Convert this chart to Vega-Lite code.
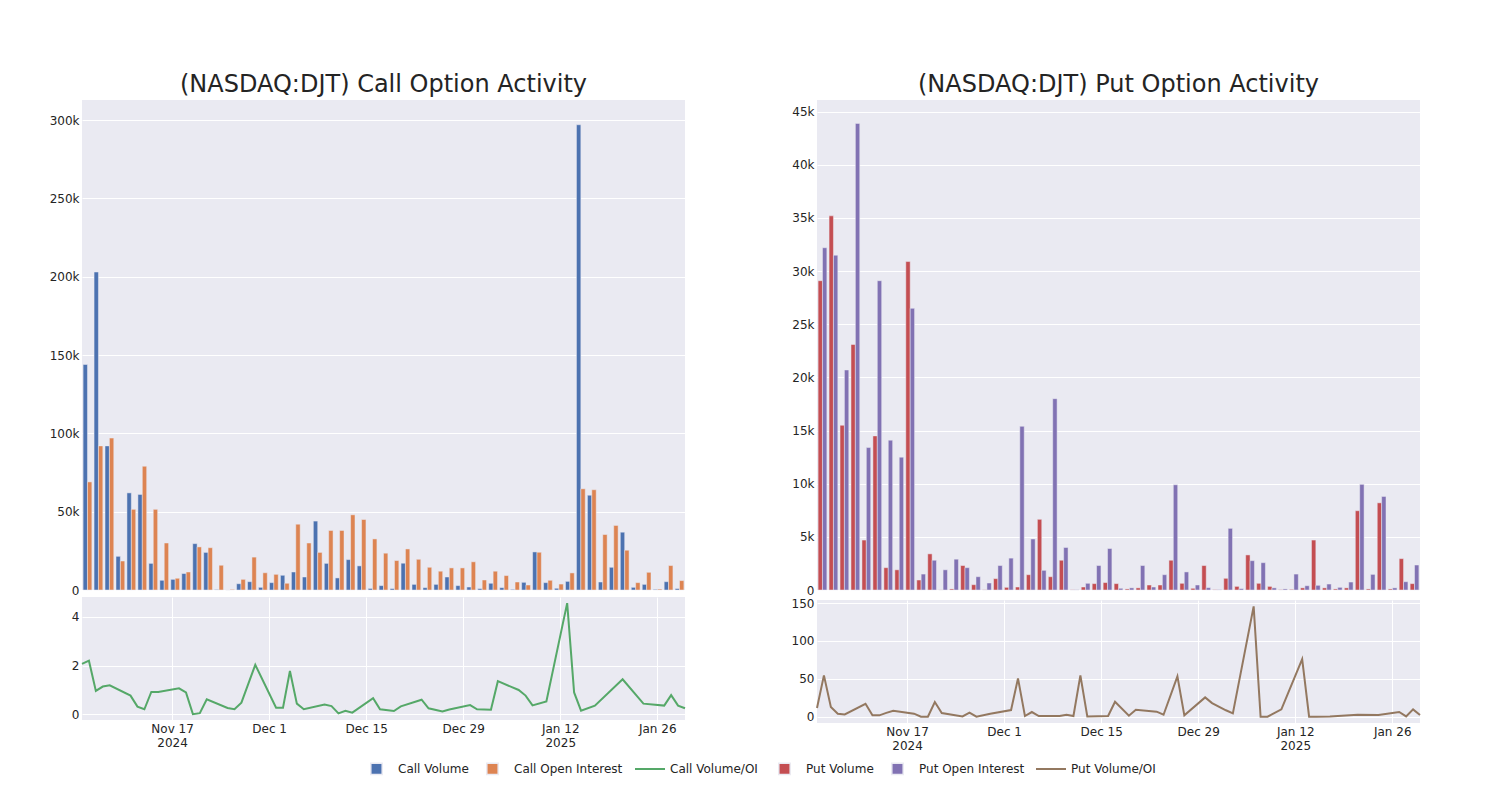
{
  "$schema": "https://vega.github.io/schema/vega-lite/v6.json",
  "background": "white",
  "autosize": {"type": "pad"},
  "padding": {"left": 49, "top": 73, "right": 5, "bottom": 5},
  "datasets": {
    "calls": [
      {"date": "2024-11-04", "V": 144000, "OI": 69000, "Call Volume/OI": 2.07},
      {"date": "2024-11-05", "V": 203000, "OI": 92000, "Call Volume/OI": 2.2},
      {"date": "2024-11-06", "V": 92000, "OI": 97000, "Call Volume/OI": 0.96},
      {"date": "2024-11-07", "V": 21500, "OI": 18500, "Call Volume/OI": 1.14},
      {"date": "2024-11-08", "V": 62000, "OI": 51500, "Call Volume/OI": 1.19},
      {"date": "2024-11-11", "V": 61000, "OI": 79000, "Call Volume/OI": 0.77},
      {"date": "2024-11-12", "V": 17000, "OI": 51500, "Call Volume/OI": 0.32},
      {"date": "2024-11-13", "V": 6200, "OI": 30000, "Call Volume/OI": 0.21},
      {"date": "2024-11-14", "V": 6800, "OI": 7500, "Call Volume/OI": 0.92},
      {"date": "2024-11-15", "V": 10500, "OI": 11500, "Call Volume/OI": 0.92},
      {"date": "2024-11-18", "V": 29600, "OI": 27500, "Call Volume/OI": 1.07},
      {"date": "2024-11-19", "V": 24000, "OI": 27000, "Call Volume/OI": 0.9},
      {"date": "2024-11-20", "V": 300, "OI": 15800, "Call Volume/OI": 0.01},
      {"date": "2024-11-21", "V": 20, "OI": 400, "Call Volume/OI": 0.05},
      {"date": "2024-11-22", "V": 4000, "OI": 6800, "Call Volume/OI": 0.62},
      {"date": "2024-11-25", "V": 5300, "OI": 21000, "Call Volume/OI": 0.26},
      {"date": "2024-11-26", "V": 1700, "OI": 11000, "Call Volume/OI": 0.21},
      {"date": "2024-11-27", "V": 4700, "OI": 10000, "Call Volume/OI": 0.48},
      {"date": "2024-11-29", "V": 9400, "OI": 4300, "Call Volume/OI": 2.03},
      {"date": "2024-12-02", "V": 11500, "OI": 42000, "Call Volume/OI": 0.27},
      {"date": "2024-12-03", "V": 8300, "OI": 30000, "Call Volume/OI": 0.27},
      {"date": "2024-12-04", "V": 44000, "OI": 24000, "Call Volume/OI": 1.78},
      {"date": "2024-12-05", "V": 17000, "OI": 38000, "Call Volume/OI": 0.44},
      {"date": "2024-12-06", "V": 7700, "OI": 38000, "Call Volume/OI": 0.21},
      {"date": "2024-12-09", "V": 19400, "OI": 48000, "Call Volume/OI": 0.4},
      {"date": "2024-12-10", "V": 15400, "OI": 45000, "Call Volume/OI": 0.34},
      {"date": "2024-12-11", "V": 1000, "OI": 32600, "Call Volume/OI": 0.04},
      {"date": "2024-12-12", "V": 2800, "OI": 23500, "Call Volume/OI": 0.15},
      {"date": "2024-12-13", "V": 900, "OI": 18800, "Call Volume/OI": 0.07},
      {"date": "2024-12-16", "V": 17100, "OI": 26200, "Call Volume/OI": 0.66},
      {"date": "2024-12-17", "V": 3600, "OI": 19600, "Call Volume/OI": 0.21},
      {"date": "2024-12-19", "V": 1500, "OI": 14500, "Call Volume/OI": 0.14},
      {"date": "2024-12-20", "V": 3600, "OI": 12000, "Call Volume/OI": 0.33},
      {"date": "2024-12-23", "V": 8300, "OI": 14100, "Call Volume/OI": 0.6},
      {"date": "2024-12-24", "V": 2800, "OI": 14100, "Call Volume/OI": 0.25},
      {"date": "2024-12-26", "V": 1900, "OI": 18000, "Call Volume/OI": 0.12},
      {"date": "2024-12-27", "V": 900, "OI": 6400, "Call Volume/OI": 0.2},
      {"date": "2024-12-30", "V": 4300, "OI": 12000, "Call Volume/OI": 0.38},
      {"date": "2024-12-31", "V": 1500, "OI": 9200, "Call Volume/OI": 0.21},
      {"date": "2025-01-02", "V": 400, "OI": 5100, "Call Volume/OI": 0.19},
      {"date": "2025-01-03", "V": 4900, "OI": 3200, "Call Volume/OI": 1.36},
      {"date": "2025-01-06", "V": 24300, "OI": 24100, "Call Volume/OI": 1.0},
      {"date": "2025-01-07", "V": 4700, "OI": 6200, "Call Volume/OI": 0.77},
      {"date": "2025-01-08", "V": 1100, "OI": 3800, "Call Volume/OI": 0.37},
      {"date": "2025-01-10", "V": 5500, "OI": 10900, "Call Volume/OI": 0.53},
      {"date": "2025-01-13", "V": 297000, "OI": 64600, "Call Volume/OI": 4.56},
      {"date": "2025-01-14", "V": 60500, "OI": 64000, "Call Volume/OI": 0.9},
      {"date": "2025-01-15", "V": 5100, "OI": 35400, "Call Volume/OI": 0.15},
      {"date": "2025-01-17", "V": 14500, "OI": 41200, "Call Volume/OI": 0.36},
      {"date": "2025-01-21", "V": 36900, "OI": 25400, "Call Volume/OI": 1.44},
      {"date": "2025-01-24", "V": 1700, "OI": 4700, "Call Volume/OI": 0.44},
      {"date": "2025-01-27", "V": 3600, "OI": 11300, "Call Volume/OI": 0.36},
      {"date": "2025-01-28", "V": 400, "OI": 600, "Call Volume/OI": 0.79},
      {"date": "2025-01-29", "V": 5300, "OI": 15600, "Call Volume/OI": 0.36},
      {"date": "2025-01-30", "V": 900, "OI": 6000, "Call Volume/OI": 0.25}
    ],
    "puts": [
      {"date": "2024-11-04", "V": 29100, "OI": 32200, "Put Volume/OI": 11.4},
      {"date": "2024-11-05", "V": 35200, "OI": 31500, "Put Volume/OI": 54.5},
      {"date": "2024-11-06", "V": 15500, "OI": 20700, "Put Volume/OI": 12.8},
      {"date": "2024-11-07", "V": 23100, "OI": 43900, "Put Volume/OI": 4},
      {"date": "2024-11-08", "V": 4700, "OI": 13400, "Put Volume/OI": 3},
      {"date": "2024-11-11", "V": 14500, "OI": 29100, "Put Volume/OI": 17},
      {"date": "2024-11-12", "V": 2100, "OI": 14100, "Put Volume/OI": 1.8},
      {"date": "2024-11-13", "V": 1900, "OI": 12500, "Put Volume/OI": 1.8},
      {"date": "2024-11-14", "V": 30900, "OI": 26500, "Put Volume/OI": 5},
      {"date": "2024-11-15", "V": 940, "OI": 1500, "Put Volume/OI": 7.9},
      {"date": "2024-11-18", "V": 3400, "OI": 2800, "Put Volume/OI": 4},
      {"date": "2024-11-19", "V": 10, "OI": 1900, "Put Volume/OI": 0},
      {"date": "2024-11-20", "V": 100, "OI": 2900, "Put Volume/OI": 0},
      {"date": "2024-11-21", "V": 2300, "OI": 2100, "Put Volume/OI": 19.4},
      {"date": "2024-11-22", "V": 500, "OI": 1250, "Put Volume/OI": 4.8},
      {"date": "2024-11-25", "V": 20, "OI": 660, "Put Volume/OI": 0.4},
      {"date": "2024-11-26", "V": 1070, "OI": 2300, "Put Volume/OI": 5.3},
      {"date": "2024-11-27", "V": 250, "OI": 3000, "Put Volume/OI": 0},
      {"date": "2024-11-29", "V": 280, "OI": 15400, "Put Volume/OI": 4},
      {"date": "2024-12-02", "V": 1440, "OI": 4800, "Put Volume/OI": 8.8},
      {"date": "2024-12-03", "V": 6650, "OI": 1850, "Put Volume/OI": 50.6},
      {"date": "2024-12-04", "V": 1250, "OI": 18000, "Put Volume/OI": 0.9},
      {"date": "2024-12-05", "V": 2800, "OI": 4000, "Put Volume/OI": 6.2},
      {"date": "2024-12-06", "V": 20, "OI": 20, "Put Volume/OI": 0.9},
      {"date": "2024-12-09", "V": 280, "OI": 630, "Put Volume/OI": 0.9},
      {"date": "2024-12-10", "V": 600, "OI": 2300, "Put Volume/OI": 2.6},
      {"date": "2024-12-11", "V": 700, "OI": 3900, "Put Volume/OI": 0.9},
      {"date": "2024-12-12", "V": 600, "OI": 160, "Put Volume/OI": 54.5},
      {"date": "2024-12-13", "V": 100, "OI": 200, "Put Volume/OI": 0.4},
      {"date": "2024-12-16", "V": 200, "OI": 2300, "Put Volume/OI": 0.9},
      {"date": "2024-12-17", "V": 470, "OI": 280, "Put Volume/OI": 19.8},
      {"date": "2024-12-19", "V": 470, "OI": 1440, "Put Volume/OI": 1.3},
      {"date": "2024-12-20", "V": 2800, "OI": 9900, "Put Volume/OI": 9.2},
      {"date": "2024-12-23", "V": 630, "OI": 1700, "Put Volume/OI": 6.6},
      {"date": "2024-12-24", "V": 160, "OI": 470, "Put Volume/OI": 2.6},
      {"date": "2024-12-26", "V": 2300, "OI": 220, "Put Volume/OI": 53.2},
      {"date": "2024-12-27", "V": 30, "OI": 30, "Put Volume/OI": 1.8},
      {"date": "2024-12-30", "V": 1100, "OI": 5800, "Put Volume/OI": 25.5},
      {"date": "2024-12-31", "V": 340, "OI": 130, "Put Volume/OI": 18},
      {"date": "2025-01-02", "V": 3300, "OI": 2760, "Put Volume/OI": 8.5},
      {"date": "2025-01-03", "V": 630, "OI": 2570, "Put Volume/OI": 4.4},
      {"date": "2025-01-06", "V": 340, "OI": 200, "Put Volume/OI": 145.6},
      {"date": "2025-01-07", "V": 30, "OI": 100, "Put Volume/OI": 0},
      {"date": "2025-01-08", "V": 60, "OI": 1500, "Put Volume/OI": 0},
      {"date": "2025-01-10", "V": 200, "OI": 400, "Put Volume/OI": 9.7},
      {"date": "2025-01-13", "V": 4700, "OI": 440, "Put Volume/OI": 76},
      {"date": "2025-01-14", "V": 200, "OI": 560, "Put Volume/OI": 0},
      {"date": "2025-01-15", "V": 100, "OI": 250, "Put Volume/OI": 0},
      {"date": "2025-01-17", "V": 200, "OI": 750, "Put Volume/OI": 0.3},
      {"date": "2025-01-21", "V": 7460, "OI": 9940, "Put Volume/OI": 2.6},
      {"date": "2025-01-24", "V": 100, "OI": 1470, "Put Volume/OI": 2.2},
      {"date": "2025-01-27", "V": 8200, "OI": 8800, "Put Volume/OI": 6.2},
      {"date": "2025-01-28", "V": 100, "OI": 200, "Put Volume/OI": 0.4},
      {"date": "2025-01-29", "V": 2950, "OI": 780, "Put Volume/OI": 9.7},
      {"date": "2025-01-30", "V": 600, "OI": 2350, "Put Volume/OI": 2.2}
    ]
  },
  "spacing": 20,
  "resolve": {"scale": {"color": "independent", "stroke": "independent"}, "legend": {"color": "independent", "stroke": "independent"}},
  "hconcat": [
    {
      "spacing": 1,
      "vconcat": [
        {
          "data": {"name": "calls"},
          "title": {"text": "(NASDAQ:DJT) Call Option Activity", "baseline": "alphabetic", "offset": -16},
          "width": 603,
          "height": 490,
          "transform": [{"fold": ["V", "OI"]}],
          "mark": {"type": "bar", "stroke": "#EAEAF2", "strokeWidth": 0.5},
          "encoding": {
            "x": {"field": "date", "type": "ordinal", "sort": null,
                  "scale": {"paddingInner": 0.2, "paddingOuter": 0.1},
                  "axis": {"title": null, "labels": false, "ticks": false, "domain": false, "grid": true,
                           "values": ["2024-11-04", "2024-11-18", "2024-12-03", "2024-12-17", "2025-01-03", "2025-01-24"]}},
            "xOffset": {"field": "key", "type": "nominal", "sort": ["V", "OI"],
                        "scale": {"paddingInner": 0, "paddingOuter": 0}},
            "y": {"field": "value", "type": "quantitative",
                  "scale": {"domain": [0, 312800], "nice": false},
                  "axis": {"title": null, "labelExpr": "datum.value == 0 ? '0' : (datum.value / 1000) + 'k'", "values": [0, 50000, 100000, 150000, 200000, 250000, 300000]}},
            "color": {"field": "key", "type": "nominal", "sort": ["V", "OI"],
                      "scale": {"domain": ["V", "OI"], "range": ["#4C72B0", "#DD8452"]},
                      "legend": {"title": null, "orient": "none", "legendX": 288, "legendY": 662, "direction": "horizontal",
                                 "symbolType": "square", "symbolSize": 130, "labelOffset": 15, "columnPadding": 14,
                                 "labelExpr": "datum.label == 'V' ? 'Call Volume' : 'Call Open Interest'"}}
          }
        },
        {
          "data": {"name": "calls"},
          "width": 603,
          "height": 123,
          "transform": [{"fold": ["Call Volume/OI"]}],
          "mark": {"type": "line", "strokeWidth": 2},
          "encoding": {
            "x": {"field": "date", "type": "temporal",
                  "scale": {"type": "utc", "nice": false},
                  "axis": {"title": null, "grid": true,
                           "values": [{"year": 2024, "month": "nov", "date": 17, "utc": true},
                                      {"year": 2024, "month": "dec", "date": 1, "utc": true},
                                      {"year": 2024, "month": "dec", "date": 15, "utc": true},
                                      {"year": 2024, "month": "dec", "date": 29, "utc": true},
                                      {"year": 2025, "month": "jan", "date": 12, "utc": true},
                                      {"year": 2025, "month": "jan", "date": 26, "utc": true}],
                           "labelExpr": "(utcmonth(datum.value) == 10 && utcdate(datum.value) == 17) || (utcmonth(datum.value) == 0 && utcdate(datum.value) == 12) ? [utcFormat(datum.value, '%b %-d'), utcFormat(datum.value, '%Y')] : utcFormat(datum.value, '%b %-d')"}},
            "y": {"field": "value", "type": "quantitative",
                  "scale": {"domain": [-0.23, 4.81], "nice": false, "zero": false},
                  "axis": {"title": null, "values": [0, 2, 4]}},
            "stroke": {"field": "key", "type": "nominal",
                       "scale": {"domain": ["Call Volume/OI"], "range": ["#55A868"]},
                       "legend": {"title": null, "orient": "none", "legendX": 552, "legendY": 653, "direction": "horizontal",
                                  "symbolType": "stroke", "symbolSize": 900, "symbolStrokeWidth": 2, "labelOffset": 4}}
          }
        }
      ]
    },
    {
      "spacing": 1,
      "vconcat": [
        {
          "data": {"name": "puts"},
          "title": {"text": "(NASDAQ:DJT) Put Option Activity", "baseline": "alphabetic", "offset": -16},
          "width": 603,
          "height": 490,
          "transform": [{"fold": ["V", "OI"]}],
          "mark": {"type": "bar", "stroke": "#EAEAF2", "strokeWidth": 0.5},
          "encoding": {
            "x": {"field": "date", "type": "ordinal", "sort": null,
                  "scale": {"paddingInner": 0.2, "paddingOuter": 0.1},
                  "axis": {"title": null, "labels": false, "ticks": false, "domain": false, "grid": true,
                           "values": ["2024-11-04", "2024-11-18", "2024-12-03", "2024-12-17", "2025-01-03", "2025-01-24"]}},
            "xOffset": {"field": "key", "type": "nominal", "sort": ["V", "OI"],
                        "scale": {"paddingInner": 0, "paddingOuter": 0}},
            "y": {"field": "value", "type": "quantitative",
                  "scale": {"domain": [0, 46100], "nice": false},
                  "axis": {"title": null, "labelExpr": "datum.value == 0 ? '0' : (datum.value / 1000) + 'k'", "values": [0, 5000, 10000, 15000, 20000, 25000, 30000, 35000, 40000, 45000]}},
            "color": {"field": "key", "type": "nominal", "sort": ["V", "OI"],
                      "scale": {"domain": ["V", "OI"], "range": ["#C44E52", "#8172B3"]},
                      "legend": {"title": null, "orient": "none", "legendX": -39, "legendY": 662, "direction": "horizontal",
                                 "symbolType": "square", "symbolSize": 130, "labelOffset": 15, "columnPadding": 14,
                                 "labelExpr": "datum.label == 'V' ? 'Put Volume' : 'Put Open Interest'"}}
          }
        },
        {
          "data": {"name": "puts"},
          "width": 603,
          "height": 123,
          "transform": [{"fold": ["Put Volume/OI"]}],
          "mark": {"type": "line", "strokeWidth": 2},
          "encoding": {
            "x": {"field": "date", "type": "temporal",
                  "scale": {"type": "utc", "nice": false},
                  "axis": {"title": null, "grid": true,
                           "values": [{"year": 2024, "month": "nov", "date": 17, "utc": true},
                                      {"year": 2024, "month": "dec", "date": 1, "utc": true},
                                      {"year": 2024, "month": "dec", "date": 15, "utc": true},
                                      {"year": 2024, "month": "dec", "date": 29, "utc": true},
                                      {"year": 2025, "month": "jan", "date": 12, "utc": true},
                                      {"year": 2025, "month": "jan", "date": 26, "utc": true}],
                           "labelExpr": "(utcmonth(datum.value) == 10 && utcdate(datum.value) == 17) || (utcmonth(datum.value) == 0 && utcdate(datum.value) == 12) ? [utcFormat(datum.value, '%b %-d'), utcFormat(datum.value, '%Y')] : utcFormat(datum.value, '%b %-d')"}},
            "y": {"field": "value", "type": "quantitative",
                  "scale": {"domain": [-8.3, 154], "nice": false, "zero": false},
                  "axis": {"title": null, "values": [0, 50, 100, 150]}},
            "stroke": {"field": "key", "type": "nominal",
                       "scale": {"domain": ["Put Volume/OI"], "range": ["#937860"]},
                       "legend": {"title": null, "orient": "none", "legendX": 218, "legendY": 653, "direction": "horizontal",
                                  "symbolType": "stroke", "symbolSize": 900, "symbolStrokeWidth": 2, "labelOffset": 4}}
          }
        }
      ]
    }
  ],
  "config": {
    "view": {"fill": "#EAEAF2", "stroke": null},
    "font": "DejaVu Sans",
    "axis": {"gridColor": "#FFFFFF", "gridWidth": 1, "gridOpacity": 1, "domain": false, "ticks": false,
             "labelFont": "DejaVu Sans", "labelFontSize": 12, "labelColor": "#242424", "labelPadding": 3},
    "title": {"font": "DejaVu Sans", "fontSize": 24, "fontWeight": "normal", "color": "#242424", "anchor": "middle"},
    "legend": {"labelFont": "DejaVu Sans", "labelFontSize": 12, "labelColor": "#242424", "symbolOpacity": 1}
  }
}
